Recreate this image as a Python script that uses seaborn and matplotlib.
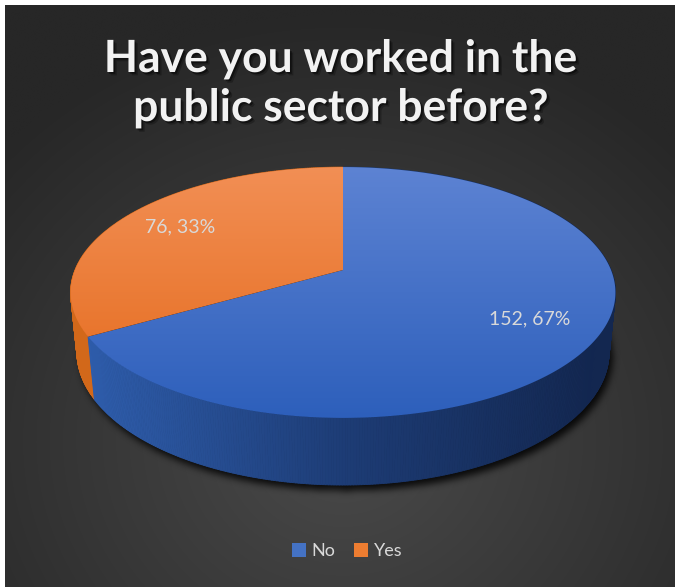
import numpy as np
import pandas as pd
import matplotlib
matplotlib.use("Agg")
import matplotlib.pyplot as plt
import matplotlib.patheffects as pe
from matplotlib.patches import Polygon, Patch
from matplotlib.collections import PolyCollection
from matplotlib.colors import LinearSegmentedColormap, to_rgb
from matplotlib.path import Path
import seaborn as sns

# Survey answers
categories = ["No", "Yes"]
counts = [152, 76]

title_lines = ["Have you worked in the", "public sector before?"]

# Face colours per answer (top face gradient, side wall gradient, legend swatch)
top_light = ["#5d83d3", "#f28f55"]
top_dark = ["#2d5fbb", "#e4691a"]
side_light = ["#2e5caa", "#d2681a"]
side_mid = ["#1d3c75", "#b55a16"]
side_dark = ["#132750", "#9c4a12"]
swatch = ["#4472c4", "#ed7d31"]

sns.set_theme(style="dark")
plt.rcParams["font.family"] = ["Lato", "DejaVu Sans"]

W, HP = 675, 587
fig = plt.figure(figsize=(W / 100, HP / 100), dpi=100)
fig.patch.set_facecolor("white")
ax = fig.add_axes([0, 0, 1, 1])
ax.set_axis_off()

# ---- dark panel with a soft radial glow ----
yy, xx = np.mgrid[0:HP, 0:W]
r = np.sqrt(((xx - 340) / 470.0) ** 2 + ((yy - 440) / 430.0) ** 2)
r = np.clip(r, 0, 1)
c_in, c_out = np.array(to_rgb("#4a4a4a")), np.array(to_rgb("#272727"))
bg = c_in[None, None, :] * (1 - r[..., None]) + c_out[None, None, :] * r[..., None]
ax.imshow(bg, extent=(5, W, HP, 5), origin="upper", zorder=0, aspect="auto")

# ---- data table ----
df = pd.DataFrame({"answer": categories, "count": counts})
df["share"] = df["count"] / df["count"].sum()
df["pct"] = (df["share"] * 100).round().astype(int)
# slices run clockwise from 12 o'clock
df["end"] = 90 - 360 * df["share"].cumsum().shift(fill_value=0)
df["start"] = df["end"] - 360 * df["share"]

# ---- perspective projection of a 3-D disk ----
SIN_E = 0.453
COS_E = np.sqrt(1 - SIN_E ** 2)
DIST = 4.97
DEPTH = 0.251
RPX = 268
CX, CY = 343, 270


def project(x, y, z):
    v = y * SIN_E + z * COS_E
    w = y * COS_E - z * SIN_E
    s = DIST / (DIST + w)
    return CX + RPX * x * s, CY - RPX * v * s, w


# shadow under the disk
t_all = np.radians(np.linspace(0, 360, 721))
bx, by, _ = project(np.cos(t_all), np.sin(t_all), -DEPTH)
tx, ty, _ = project(np.cos(t_all), np.sin(t_all), 0.0)
sil = Path(np.column_stack([bx + 3, by + 5]))
mask = sil.contains_points(np.column_stack([xx.ravel(), yy.ravel()])).reshape(HP, W).astype(float)
k = np.ones(7) / 7
for _ in range(3):
    mask = np.apply_along_axis(lambda m: np.convolve(m, k, mode="same"), 0, mask)
    mask = np.apply_along_axis(lambda m: np.convolve(m, k, mode="same"), 1, mask)
shadow = np.zeros((HP, W, 4))
shadow[..., 3] = mask * 0.85
ax.imshow(shadow, extent=(0, W, HP, 0), origin="upper", zorder=1, aspect="auto")

# side walls, drawn far to near
quads, qcols, qdepth = [], [], []
for i, row in df.iterrows():
    cmap = LinearSegmentedColormap.from_list(
        f"side{i}", [side_light[i], side_mid[i], side_dark[i]])
    ts = np.radians(np.linspace(row["start"], row["end"], int(abs(row["end"] - row["start"])) * 2 + 2))
    for a0, a1 in zip(ts[:-1], ts[1:]):
        x0, y0, _ = project(np.cos(a0), np.sin(a0), 0.0)
        x1, y1, _ = project(np.cos(a1), np.sin(a1), 0.0)
        x2, y2, _ = project(np.cos(a1), np.sin(a1), -DEPTH)
        x3, y3, _ = project(np.cos(a0), np.sin(a0), -DEPTH)
        am = 0.5 * (a0 + a1)
        _, _, wm = project(np.cos(am), np.sin(am), -DEPTH / 2)
        quads.append([(x0, y0), (x1, y1), (x2, y2), (x3, y3)])
        f = np.clip(((x0 + x1) / 2 - 95) / (600 - 95), 0, 1)
        qcols.append(cmap(f))
        qdepth.append(wm)
order = np.argsort(qdepth)[::-1]
pc = PolyCollection([quads[j] for j in order], facecolors=[qcols[j] for j in order],
                    edgecolors=[qcols[j] for j in order], linewidths=0.6, zorder=2)
ax.add_collection(pc)

# top faces with a vertical gradient
top_y0, top_y1 = ty.min(), ty.max()
for i, row in df.iterrows():
    ts = np.radians(np.linspace(row["start"], row["end"], 400))
    px, py, _ = project(np.cos(ts), np.sin(ts), 0.0)
    pts = np.vstack([[CX, CY], np.column_stack([px, py])])
    poly = Polygon(pts, closed=True, facecolor="none", edgecolor="none", zorder=3)
    ax.add_patch(poly)
    grad_cmap = LinearSegmentedColormap.from_list(f"top{i}", [top_light[i], top_dark[i]])
    g = grad_cmap(np.linspace(0, 1, 256))[:, None, :]
    im = ax.imshow(g, extent=(CX - 300, CX + 300, top_y1 + 1, top_y0 - 1),
                   origin="upper", zorder=3, aspect="auto", interpolation="bilinear")
    im.set_clip_path(poly)

    # data label at the middle of the slice
    mid = np.radians(0.5 * (row["start"] + row["end"]))
    lx, ly, _ = project(0.75 * np.cos(mid), 0.75 * np.sin(mid), 0.0)
    ax.text(lx, ly, f"{row['count']}, {row['pct']}%", ha="center", va="center",
            fontsize=14, color="#d9d9d9", zorder=5)

# ---- title ----
shadow_fx = [pe.SimplePatchShadow(offset=(2.4, -2.4), shadow_rgbFace="black", alpha=0.25),
             pe.SimplePatchShadow(offset=(1.3, -1.3), shadow_rgbFace="black", alpha=0.45),
             pe.Normal()]
for line, base in zip(title_lines, [72, 121]):
    ax.text(341, base, line, ha="center", va="baseline", fontsize=32,
            fontweight="bold", color="#f2f2f2", path_effects=shadow_fx, zorder=6)

# ---- legend ----
handles = [Patch(facecolor=swatch[i], edgecolor="none", label=categories[i])
           for i in range(len(categories))]
fig.legend(handles=handles, loc="center", bbox_to_anchor=(347 / W, 1 - 551 / HP), ncol=2,
           frameon=False, fontsize=13, labelcolor="#d9d9d9", handlelength=0.8,
           handleheight=0.8, handletextpad=0.3, columnspacing=1.0, borderaxespad=0)

ax.set_xlim(0, W)
ax.set_ylim(HP, 0)
fig.savefig("out.png", dpi=100)
